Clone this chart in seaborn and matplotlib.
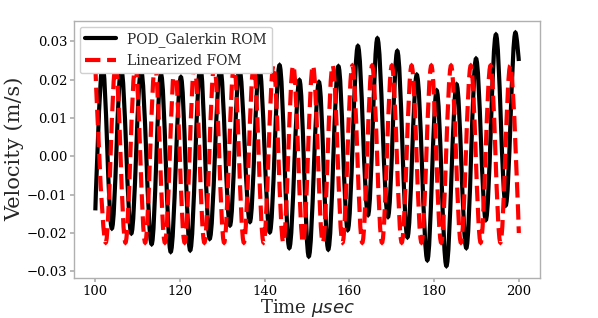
import matplotlib
matplotlib.use("Agg")
import matplotlib.pyplot as plt
from matplotlib.path import Path
from matplotlib.patches import PathPatch
from matplotlib.lines import Line2D
import seaborn as sns

# turning points (time in usec, velocity in m/s)
rom_t = [100.0, 101.7, 103.9, 106.1, 108.5, 110.8, 113.3, 115.5, 117.8, 120.2,
         122.4, 124.8, 127.0, 129.5, 131.8, 134.0, 136.5, 138.7, 141.2, 143.5,
         145.8, 148.2, 150.4, 152.8, 155.0, 157.4, 159.6, 162.0, 164.4, 166.6,
         169.1, 171.3, 173.7, 175.9, 178.4, 180.6, 182.9, 185.3, 187.6, 189.9,
         192.2, 194.6, 196.9, 199.2, 200.0]
rom_v = [-0.0141, 0.0240, -0.0188, 0.0230, -0.0201, 0.0225, -0.0229, 0.0215, -0.0249, 0.0207,
         -0.0245, 0.0235, -0.0215, 0.0230, -0.0180, 0.0230, -0.0171, 0.0235, -0.0198, 0.0238,
         -0.0239, 0.0199, -0.0261, 0.0194, -0.0243, 0.0235, -0.0192, 0.0288, -0.0153, 0.0308,
         -0.0158, 0.0275, -0.0211, 0.0213, -0.0271, 0.0172, -0.0286, 0.0188, -0.0239, 0.0255,
         -0.0166, 0.0318, -0.0128, 0.0323, 0.0249]

fom_t = [100.0, 102.45, 104.78, 107.11, 109.44, 111.77, 114.10, 116.43, 118.76, 121.09,
         123.42, 125.75, 128.08, 130.41, 132.74, 135.07, 137.40, 139.73, 142.06, 144.39,
         146.72, 149.05, 151.38, 153.71, 156.04, 158.37, 160.70, 163.03, 165.36, 167.69,
         170.02, 172.35, 174.68, 177.01, 179.34, 181.67, 184.00, 186.33, 188.66, 190.99,
         193.32, 195.65, 197.98, 200.0]
fom_v = [0.0237, -0.0225, 0.0237, -0.0225, 0.0237, -0.0225, 0.0237, -0.0225, 0.0237, -0.0225,
         0.0237, -0.0225, 0.0237, -0.0225, 0.0237, -0.0225, 0.0237, -0.0225, 0.0237, -0.0225,
         0.0237, -0.0225, 0.0237, -0.0225, 0.0237, -0.0225, 0.0237, -0.0225, 0.0237, -0.0225,
         0.0237, -0.0225, 0.0237, -0.0225, 0.0237, -0.0225, 0.0237, -0.0225, 0.0237, -0.0225,
         0.0237, -0.0225, 0.0237, -0.0200]

series_names = ["POD_Galerkin ROM", "Linearized FOM"]


def wave_path(ts, vs):
    # smooth bezier through the turning points, flat tangent at each peak/trough
    verts = [(ts[0], vs[0])]
    codes = [Path.MOVETO]
    n = len(ts)
    for i in range(n - 1):
        t0, v0, t1, v1 = ts[i], vs[i], ts[i + 1], vs[i + 1]
        h = 0.3634 * (t1 - t0)
        h0 = 0.0 if i == 0 else h
        h1 = 0.0 if i == n - 2 else h
        verts += [(t0 + h0, v0), (t1 - h1, v1), (t1, v1)]
        codes += [Path.CURVE4] * 3
    return Path(verts, codes)


sns.set_theme(style="white", rc={
    "axes.edgecolor": "#b0b0b0",
    "axes.linewidth": 1.0,
    "xtick.bottom": True,
    "ytick.left": True,
    "xtick.color": "#b0b0b0",
    "ytick.color": "#b0b0b0",
    "xtick.labelcolor": "black",
    "ytick.labelcolor": "black",
    "xtick.major.size": 3,
    "ytick.major.size": 3,
})
plt.rcParams["font.family"] = ["DejaVu Serif"]
plt.rcParams["mathtext.fontset"] = "dejavusans"
plt.rcParams["axes.unicode_minus"] = True

fig = plt.figure(figsize=(5.98, 3.18), dpi=100)
ax = fig.add_axes([0.124, 0.127, 0.779, 0.807])

ax.add_patch(PathPatch(wave_path(rom_t, rom_v), facecolor="none",
                       edgecolor="black", lw=3.0))
ax.add_patch(PathPatch(wave_path(fom_t, fom_v), facecolor="none",
                       edgecolor="red", lw=3.0, linestyle="--"))
ax.autoscale_view()

ax.set_xticks([100, 120, 140, 160, 180, 200])
ax.set_yticks([-0.03, -0.02, -0.01, 0.0, 0.01, 0.02, 0.03])
ax.tick_params(labelsize=9.5, pad=2)

ax.set_xlabel(r"Time $\mu sec$", fontsize=13, labelpad=-0.5)
ax.set_ylabel("Velocity (m/s)", fontsize=15, labelpad=2)

handles = [Line2D([], [], color="black", lw=3.0),
           Line2D([], [], color="red", lw=3.0, linestyle="--")]
ax.legend(handles, series_names, loc="upper left", fontsize=10, framealpha=1,
          handlelength=2.2, borderaxespad=0.4, edgecolor="#d0d0d0")

fig.savefig("out.png", dpi=100)
